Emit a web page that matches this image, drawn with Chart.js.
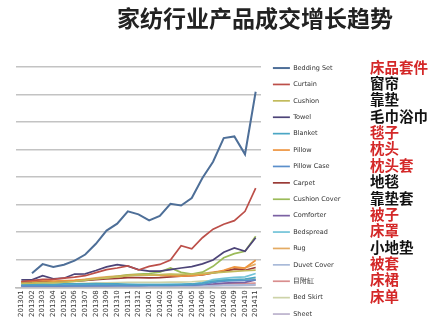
<!DOCTYPE html>
<html><head><meta charset="utf-8">
<script src="https://cdn.jsdelivr.net/npm/chart.js@4/dist/chart.umd.min.js"></script>
<style>
html,body{margin:0;padding:0;background:#fff;}
#wrap{position:relative;width:448px;height:324px;overflow:hidden;background:#fff;}
#c{position:absolute;left:0;top:0;}
#title{position:absolute;left:117px;top:3px;font:bold 23px "Noto Sans CJK SC";color:#222;white-space:nowrap;line-height:28px;}
.cn{position:absolute;left:370px;font:bold 14.5px "Noto Sans CJK SC";line-height:16px;white-space:nowrap;}
</style></head>
<body><div id="wrap"><canvas id="c" width="448" height="324"></canvas><div id="title">家纺行业产品成交增长趋势</div></div>
<script>
const categories = ['201301','201302','201303','201304','201305','201306','201307','201308','201309','201310','201311','201312','201401','201402','201403','201404','201405','201406','201407','201408','201409','201410','201411'];
const seriesNames = ['Bedding Set','Curtain','Cushion','Towel','Blanket','Pillow','Pillow Case','Carpet','Cushion Cover','Comforter','Bedspread','Rug','Duvet Cover','目附缸','Bed Skirt','Sheet'];
const seriesColors = ['#4e6f98','#bc4f49','#c2bb5c','#4d4478','#4aa6c4','#ee9540','#5b8fcb','#9a3a36','#9bbb59','#7b61a3','#72c3d8','#e4ab63','#a9bad9','#d98e8e','#cdd3a8','#bbb2cc'];
const zhLabels = ['床品套件','窗帘','靠垫','毛巾浴巾','毯子','枕头','枕头套','地毯','靠垫套','被子','床罩','小地垫','被套','床裙','床单'];
const zhColors = ['#d42828','#111','#111','#111','#d42828','#d42828','#d42828','#111','#111','#d42828','#d42828','#111','#d42828','#d42828','#d42828'];

const bedding      = [null,0.51,0.84,0.74,0.82,0.97,1.19,1.58,2.06,2.31,2.76,2.65,2.43,2.59,3.03,2.97,3.24,3.97,4.56,5.42,5.48,4.83,7.10];
const curtain      = [0.21,0.24,0.29,0.29,0.33,0.37,0.42,0.53,0.64,0.70,0.78,0.63,0.76,0.83,0.99,1.51,1.40,1.80,2.11,2.29,2.42,2.76,3.60];
const cushion      = [0.14,0.15,0.17,0.17,0.19,0.21,0.26,0.30,0.34,0.38,0.42,0.44,0.45,0.46,0.48,0.47,0.48,0.50,0.52,0.55,0.58,0.60,0.62];
const towel        = [0.27,0.27,0.42,0.31,0.33,0.48,0.49,0.61,0.74,0.82,0.77,0.64,0.59,0.59,0.64,0.70,0.75,0.85,0.99,1.27,1.43,1.31,1.80];
const blanket      = [0.10,0.10,0.11,0.10,0.12,0.12,0.12,0.13,0.12,0.12,0.11,0.10,0.10,0.10,0.10,0.11,0.12,0.15,0.22,0.26,0.28,0.30,0.36];
const pillow       = [0.20,0.22,0.25,0.22,0.24,0.25,0.28,0.31,0.35,0.38,0.42,0.45,0.45,0.43,0.42,0.40,0.42,0.46,0.52,0.62,0.74,0.70,0.98];
const pillowCase   = [0.05,0.05,0.05,0.05,0.05,0.05,0.05,0.06,0.06,0.06,0.06,0.06,0.07,0.07,0.07,0.08,0.08,0.10,0.18,0.22,0.24,0.25,0.27];
const carpet       = [0.20,0.20,0.22,0.20,0.21,0.23,0.25,0.28,0.30,0.32,0.35,0.35,0.34,0.35,0.38,0.40,0.42,0.45,0.52,0.58,0.66,0.62,0.72];
const cushionCover = [0.15,0.15,0.18,0.17,0.19,0.22,0.25,0.30,0.35,0.40,0.45,0.48,0.50,0.55,0.70,0.54,0.48,0.55,0.76,1.07,1.22,1.31,1.85];
const comforter    = [0.05,0.05,0.05,0.05,0.05,0.06,0.06,0.06,0.06,0.07,0.07,0.07,0.08,0.08,0.08,0.08,0.08,0.10,0.12,0.15,0.17,0.18,0.27];
const bedspread    = [0.08,0.08,0.08,0.08,0.08,0.09,0.10,0.10,0.10,0.10,0.10,0.10,0.10,0.10,0.11,0.11,0.12,0.16,0.28,0.32,0.36,0.38,0.50];
const rug          = [0.18,0.19,0.21,0.20,0.22,0.25,0.29,0.34,0.38,0.41,0.44,0.45,0.44,0.45,0.46,0.43,0.45,0.50,0.55,0.60,0.66,0.70,0.84];
const duvetCover   = [0.03,0.03,0.03,0.03,0.04,0.04,0.04,0.04,0.05,0.05,0.05,0.05,0.05,0.05,0.06,0.06,0.06,0.07,0.07,0.08,0.08,0.09,0.10];
const item14       = [0.05,0.05,0.06,0.05,0.06,0.06,0.07,0.07,0.08,0.08,0.08,0.08,0.08,0.08,0.09,0.09,0.09,0.10,0.11,0.12,0.13,0.13,0.15];
const bedSkirt     = [0.10,0.10,0.11,0.11,0.12,0.13,0.14,0.15,0.16,0.17,0.18,0.18,0.18,0.18,0.19,0.19,0.20,0.22,0.24,0.26,0.28,0.29,0.31];
const sheet        = [0.02,0.02,0.02,0.02,0.02,0.03,0.03,0.03,0.03,0.03,0.03,0.03,0.03,0.04,0.04,0.04,0.04,0.05,0.05,0.06,0.06,0.07,0.08];
const seriesValues = [bedding,curtain,cushion,towel,blanket,pillow,pillowCase,carpet,cushionCover,comforter,bedspread,rug,duvetCover,item14,bedSkirt,sheet];

// Chinese column
const wrap = document.getElementById('wrap');
zhLabels.forEach((t, i) => {
  const d = document.createElement('div');
  d.className = 'cn';
  d.textContent = t;
  d.style.color = zhColors[i];
  d.style.top = (66.7 + i * 16.35 - 8) + 'px';
  wrap.appendChild(d);
});

const LEGEND_LEFT = 261;
const legendPlace = {
  id: 'legendPlace',
  beforeLayout(chart) {
    const lg = chart.legend;
    if (lg && !lg._patched) {
      const orig = lg.fit.bind(lg);
      lg.fit = function () { orig(); this.width = 448 - LEGEND_LEFT; };
      lg._patched = true;
    }
  },
  afterLayout(chart) {
    const lg = chart.legend;
    if (!lg) return;
    lg.left = 263; lg.right = 448;
    lg.top = 54.9; lg.bottom = 800;
  }
};

new Chart(document.getElementById('c'), {
  type: 'line',
  data: {
    labels: categories,
    datasets: seriesNames.map((n, i) => ({
      label: n,
      data: seriesValues[i],
      borderColor: seriesColors[i],
      backgroundColor: seriesColors[i],
      borderWidth: i === 0 ? 2 : 1.7,
      pointRadius: 0,
      tension: 0,
      fill: false
    }))
  },
  options: {
    responsive: false,
    animation: false,
    devicePixelRatio: 1,
    layout: { padding: { top: 67, left: 16, right: 0, bottom: 4 } },
    plugins: {
      tooltip: { enabled: false },
      title: { display: false },
      legend: {
        display: true,
        position: 'right',
        align: 'start',
        labels: {
          usePointStyle: true,
          pointStyle: 'line',
          pointStyleWidth: 17,
          padding: 9.9,
          color: '#333',
          font: { family: 'DejaVu Sans', size: 6.5 }
        }
      }
    },
    scales: {
      x: {
        type: 'category',
        offset: true,
        grid: { display: false, drawTicks: false },
        border: { display: true, color: '#bdbdbd', width: 1.5 },
        ticks: { autoSkip: false, minRotation: 90, maxRotation: 90, padding: 3, color: '#333', font: { family: 'DejaVu Sans', size: 7 } }
      },
      y: {
        min: 0, max: 8,
        ticks: { display: false, stepSize: 1 },
        grid: { color: '#c3c3c3', lineWidth: 1.5, drawTicks: false },
        border: { display: false }
      }
    }
  },
  plugins: [legendPlace]
});
</script>
</body></html>
